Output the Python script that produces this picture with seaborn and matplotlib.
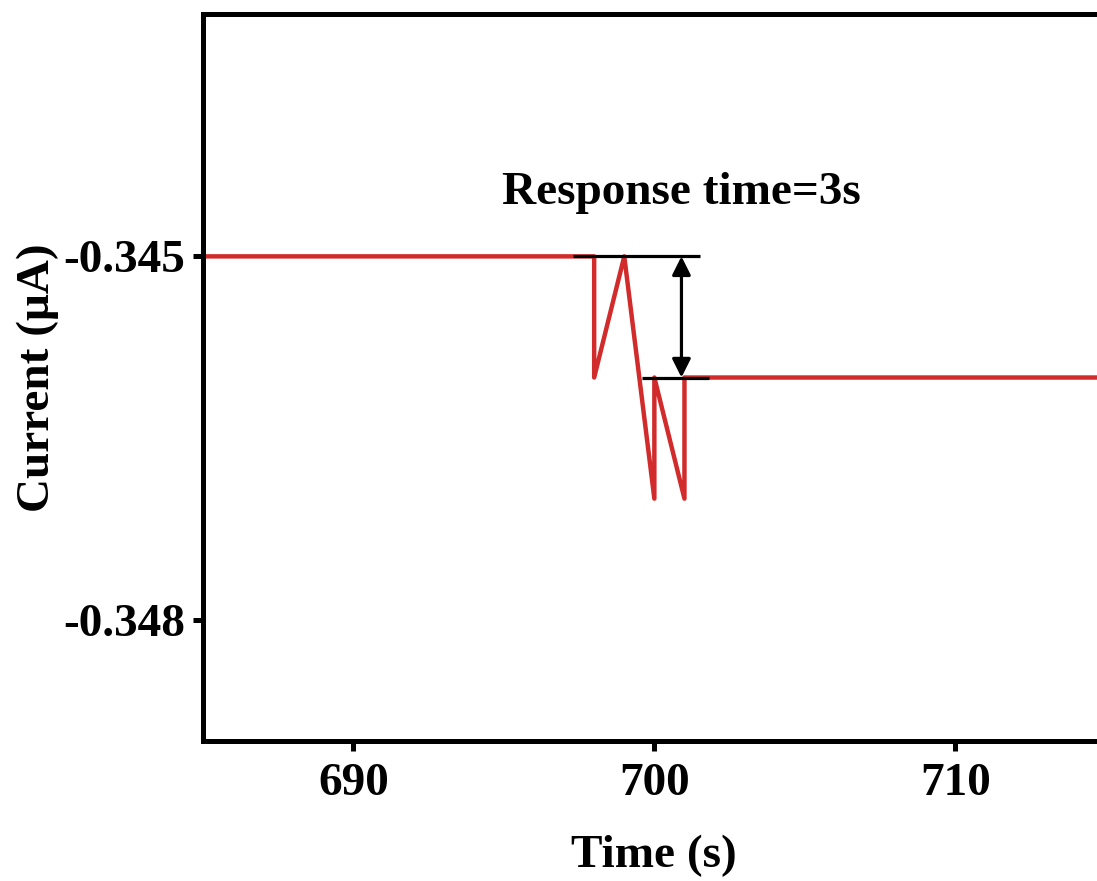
import matplotlib
matplotlib.use("Agg")
import matplotlib.pyplot as plt
import seaborn as sns
import pandas as pd

# data
time_s = [685, 698, 698, 699, 700, 700, 701, 701, 715]
current_uA = [-0.345, -0.345, -0.346, -0.345, -0.347, -0.346, -0.347, -0.346, -0.346]
x_ticks = [690, 700, 710]
y_ticks = [-0.345, -0.348]
y_ticklabels = ["-0.345", "-0.348"]
upper_level = -0.345
lower_level = -0.346
upper_span = [697.3, 701.5]
lower_span = [699.6, 701.8]
arrow_x = 700.9
annotation = "Response time=3s"

sns.set_theme(style="white")
plt.rcParams['font.family'] = ['Liberation Serif', 'DejaVu Serif']
plt.rcParams['font.weight'] = 'bold'
plt.rcParams['text.color'] = 'black'
plt.rcParams['axes.labelcolor'] = 'black'
plt.rcParams['xtick.color'] = 'black'
plt.rcParams['ytick.color'] = 'black'

fig = plt.figure(figsize=(10.97, 8.81), dpi=100)
ax = fig.add_axes([0.185, 0.159, 0.823, 0.825])

df = pd.DataFrame({"Time": time_s, "Current": current_uA})
sns.lineplot(data=df, x="Time", y="Current", sort=False, estimator=None,
             color="#D22B2B", linewidth=3.2, ax=ax)

ax.hlines(upper_level, upper_span[0], upper_span[1], color="black", linewidth=2.3, zorder=3)
ax.hlines(lower_level, lower_span[0], lower_span[1], color="black", linewidth=2.3, zorder=3)
ax.annotate("", xy=(arrow_x, lower_level), xytext=(arrow_x, upper_level),
            arrowprops=dict(arrowstyle="<|-|>", color="black", lw=2.3,
                            mutation_scale=28, shrinkA=0, shrinkB=0))
ax.text(700.9, -0.34448, annotation, ha="center", va="center",
        fontsize=34, fontweight="bold", color="black")

ax.set_xlim(685, 715)
ax.set_ylim(-0.349, -0.343)
ax.set_xticks(x_ticks)
ax.set_xticklabels([str(t) for t in x_ticks])
ax.set_yticks(y_ticks)
ax.set_yticklabels(y_ticklabels)

ax.set_xlabel("Time (s)", fontsize=34, fontweight="bold", labelpad=21, color="black")
ax.set_ylabel("Current (μA)", fontsize=34, fontweight="bold", labelpad=3, color="black")

ax.tick_params(axis="x", pad=9)
ax.tick_params(axis="y", pad=6)
ax.tick_params(axis="both", direction="out", length=7, width=3.6, labelsize=34,
               color="black", labelcolor="black", bottom=True, left=True)
for lab in ax.get_xticklabels() + ax.get_yticklabels():
    lab.set_fontweight("bold")
for sp in ax.spines.values():
    sp.set_linewidth(3.6)
    sp.set_color("black")
ax.grid(False)

fig.savefig("out.png", dpi=100)
